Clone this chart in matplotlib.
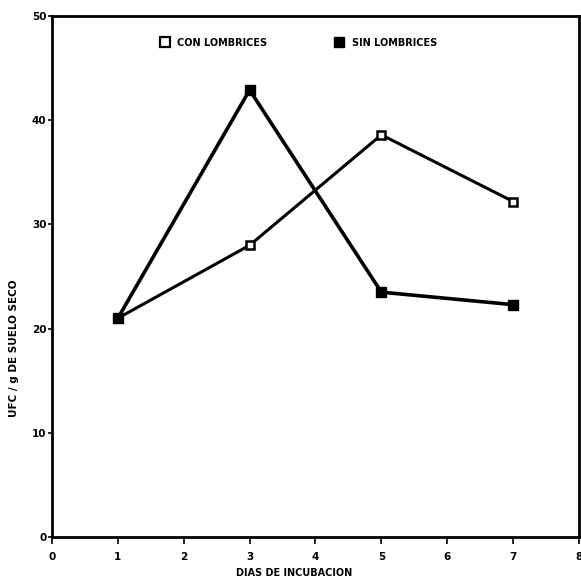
import matplotlib
matplotlib.use("Agg")
import matplotlib.pyplot as plt
from matplotlib.lines import Line2D

# dias de incubacion y UFC / g de suelo seco
dias = [1, 3, 5, 7]
con_lombrices = [21.0, 28.0, 38.6, 32.2]
sin_lombrices = [21.0, 42.9, 23.5, 22.3]

x_ticks = list(range(0, 9))
y_ticks = [0, 10, 20, 30, 40, 50]

plt.rcParams['font.family'] = 'DejaVu Sans'
plt.rcParams['font.weight'] = 'bold'

fig = plt.figure(figsize=(5.81, 5.85), dpi=100)
ax = fig.add_axes([0.0895, 0.082, 0.907, 0.8906])

# serie con lombrices: cuadros abiertos
ax.plot(dias, con_lombrices, color='black', linewidth=2.2,
        marker='s', markersize=6, markerfacecolor='white',
        markeredgecolor='black', markeredgewidth=1.8, zorder=3)
# serie sin lombrices: cuadros rellenos
ax.plot(dias, sin_lombrices, color='black', linewidth=2.6,
        marker='s', markersize=7, markerfacecolor='black',
        markeredgecolor='black', zorder=3)

ax.set_xlim(0, 8)
ax.set_ylim(0, 50)
ax.set_xticks(x_ticks)
ax.set_yticks(y_ticks)
ax.set_xticklabels([str(v) for v in x_ticks], fontsize=7.5, fontweight='bold')
ax.set_yticklabels([str(v) for v in y_ticks], fontsize=7.5, fontweight='bold')
ax.tick_params(axis='x', direction='out', length=5, width=1.2, pad=6)
ax.tick_params(axis='y', direction='out', length=3, width=1.2, pad=1)

for side in ['left', 'bottom', 'top', 'right']:
    ax.spines[side].set_linewidth(2.0)

handles = [
    Line2D([], [], marker='s', linestyle='none', markersize=7,
           markerfacecolor='white', markeredgecolor='black', markeredgewidth=1.6),
    Line2D([], [], marker='s', linestyle='none', markersize=7,
           markerfacecolor='black', markeredgecolor='black'),
]
ax.legend(handles, ['CON LOMBRICES', 'SIN LOMBRICES'], ncol=2, frameon=False,
          loc='upper left', bbox_to_anchor=(0.19, 0.975), handlelength=0.8,
          handletextpad=0.9, columnspacing=7.0,
          prop={'size': 7, 'weight': 'bold'})

fig.text(294 / 581, 1 - 573 / 585, 'DIAS DE INCUBACION', ha='center', va='center',
         fontsize=7, fontweight='bold')
fig.text(14 / 581, 1 - 348 / 585, 'UFC / g DE SUELO SECO', ha='center', va='center',
         rotation=90, fontsize=7.5, fontweight='bold')

fig.savefig('out.png', dpi=100)
